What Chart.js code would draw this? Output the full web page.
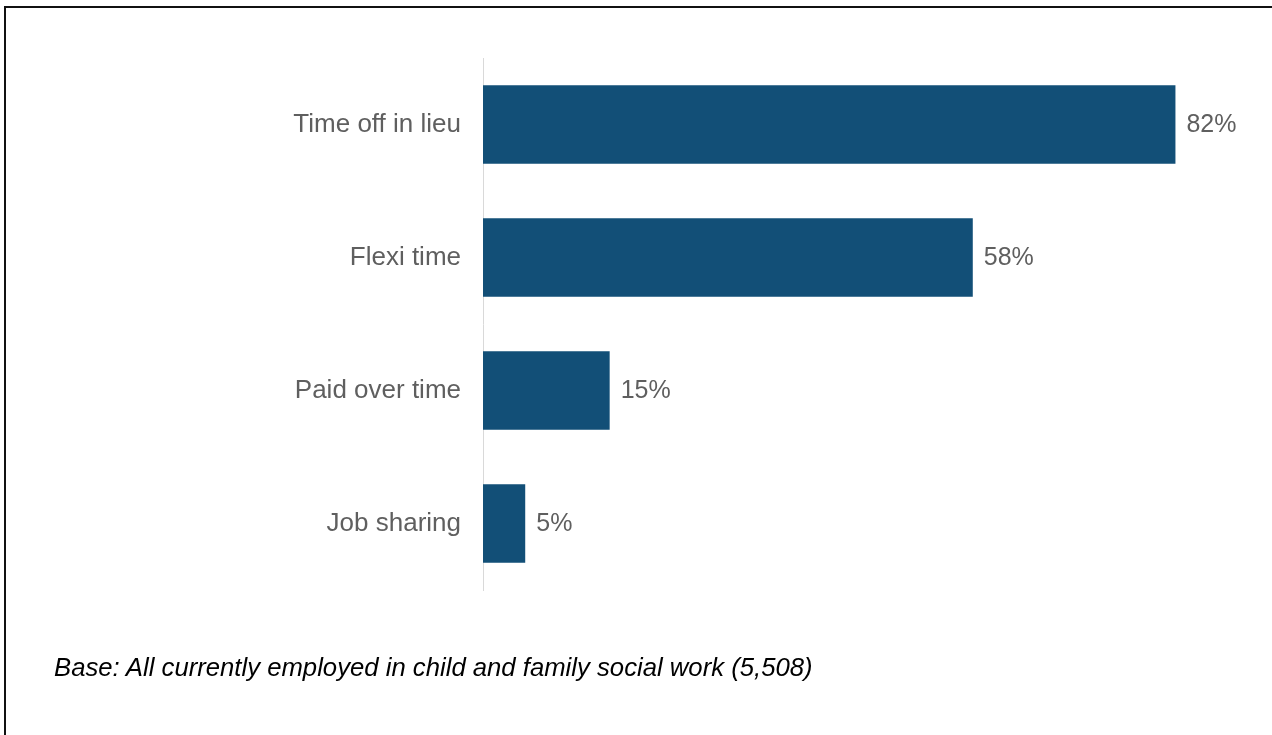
<!DOCTYPE html>
<html>
<head>
<meta charset="utf-8">
<script src="https://cdn.jsdelivr.net/npm/chart.js@4/dist/chart.umd.min.js"></script>
<style>
    html, body { margin: 0; padding: 0; background: #ffffff; }
    #frame {
        position: absolute; left: 4px; top: 6px; width: 1400px; height: 900px;
        border-top: 2px solid #111; border-left: 2px solid #111;
    }
    #wrap { position: absolute; left: 0; top: 0; width: 1272px; height: 735px; }
    #note {
        position: absolute; left: 54px; top: 653px;
        font-family: 'Liberation Sans', Arial, sans-serif; font-style: italic;
        font-size: 25.7px; color: #000;
    }
</style>
</head>
<body>
<div id="frame"></div>
<div id="wrap"><canvas id="barChart" width="1272" height="735"></canvas></div>
<div id="note">Base: All currently employed in child and family social work (5,508)</div>
<script>
// === DATA ===
const categories = ['Time off in lieu', 'Flexi time', 'Paid over time', 'Job sharing'];
const shares     = [82, 58, 15, 5];

const COLORS = {
    bar:   '#124f77',
    text:  '#5f5f5f',
    axis:  '#d9d9d9',
};

// value labels at bar ends
const valueLabels = {
    id: 'valueLabels',
    afterDatasetsDraw(chart) {
        const ctx  = chart.ctx;
        const meta = chart.getDatasetMeta(0);
        ctx.save();
        ctx.font         = '25px "Liberation Sans", Arial, sans-serif';
        ctx.fillStyle    = COLORS.text;
        ctx.textAlign    = 'left';
        ctx.textBaseline = 'middle';
        meta.data.forEach((bar, i) => {
            ctx.fillText(shares[i] + '%', bar.x + 11, bar.y + 1);
        });
        ctx.restore();
    },
};

new Chart(document.getElementById('barChart').getContext('2d'), {
    type: 'bar',
    data: {
        labels: categories,
        datasets: [{
            data:               shares,
            backgroundColor:    COLORS.bar,
            borderWidth:        0,
            barPercentage:      0.59,
            categoryPercentage: 1,
        }],
    },
    options: {
        indexAxis: 'y',
        responsive: false,
        animation: false,
        layout: { padding: { top: 58, bottom: 145, right: 29, left: 0 } },
        plugins: { legend: { display: false }, tooltip: { enabled: false } },
        scales: {
            x: { display: false, min: 0, max: 90 },
            y: {
                grid:   { display: false, drawTicks: false },
                border: { display: true, color: COLORS.axis, width: 1 },
                ticks:  {
                    color:   COLORS.text,
                    padding: 22,
                    font:    { family: '"Liberation Sans", Arial, sans-serif', size: 26 },
                },
                afterFit: scale => { scale.width = 483; },
            },
        },
    },
    plugins: [valueLabels],
});
</script>
</body>
</html>
